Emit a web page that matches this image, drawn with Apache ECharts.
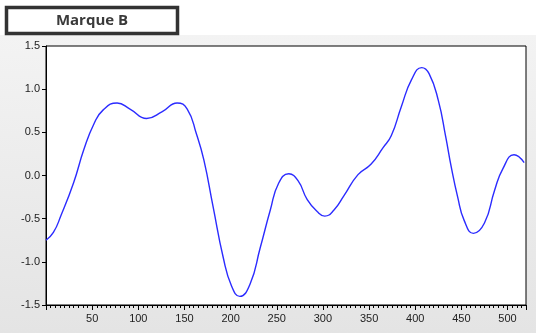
<!DOCTYPE html>
<html>
<head>
<meta charset="utf-8">
<script src="https://cdn.jsdelivr.net/npm/echarts@6/dist/echarts.min.js"></script>
<style>
	html, body { margin: 0; padding: 0; background: #fff; }
	#chart { width: 536px; height: 333px; }
</style>
</head>
<body>
<div id="chart"></div>
<script>
	var obs = [0, 8, 16, 30, 41, 52, 62, 77, 91, 109, 126, 142, 153, 163, 171, 181, 192,
		201, 210, 221, 232, 243, 252, 263, 273, 283, 294, 302, 312, 323, 338, 352, 365, 374, 385, 396,
		407, 415, 425, 433, 439, 446, 453, 463, 475, 486, 495, 507, 518];
	var values = [-0.75, -0.66, -0.47, -0.08, 0.30, 0.60, 0.76, 0.84, 0.77, 0.66, 0.74, 0.84, 0.77, 0.48, 0.18, -0.36, -0.95,
		-1.28, -1.40, -1.26, -0.84, -0.40, -0.09, 0.02, -0.06, -0.28, -0.42, -0.47, -0.40, -0.23, 0.01, 0.13, 0.32, 0.46, 0.80, 1.11,
		1.25, 1.18, 0.87, 0.45, 0.10, -0.25, -0.52, -0.67, -0.55, -0.17, 0.08, 0.24, 0.15];
	var xTicks = [50, 100, 150, 200, 250, 300, 350, 400, 450, 500];
	var titleText = 'Marque B';

	var points = [];
	for (var i = 0; i < obs.length; i++) {
		points.push([obs[i], values[i]]);
	}

	var chart = echarts.init(document.getElementById('chart'));
	var option = {
		animation : false,
		graphic : [
			{
				type : 'rect',
				z : -10,
				shape : { x : 0, y : 35, width : 536, height : 298 },
				style : {
					fill : new echarts.graphic.LinearGradient(0, 0, 0, 1, [
						{ offset : 0, color : '#f3f3f3' },
						{ offset : 1, color : '#e4e4e4' }
					])
				}
			},
			{
				type : 'rect',
				shape : { x : 6.5, y : 7.5, width : 171, height : 26 },
				style : { fill : '#fff', stroke : '#333', lineWidth : 3.5 }
			},
			{
				type : 'text',
				x : 92,
				y : 20.5,
				style : {
					text : titleText,
					font : 'bold 15px "Open Sans"',
					fill : '#3a3a3a',
					align : 'center',
					verticalAlign : 'middle'
				}
			}
		],
		grid : {
			left : 46,
			right : 10,
			top : 46,
			bottom : 28,
			show : true,
			backgroundColor : '#fff',
			borderColor : '#000',
			borderWidth : 1
		},
		xAxis : {
			type : 'value',
			min : 0,
			max : 520,
			interval : 50,
			axisLine : { onZero : false, lineStyle : { color : '#000' } },
			axisTick : { show : true, length : 5, lineStyle : { color : '#000' } },
			minorTick : { show : true, splitNumber : 10, length : 3, lineStyle : { color : '#000' } },
			splitLine : { show : false },
			axisLabel : {
				color : '#222',
				fontFamily : 'Liberation Sans',
				fontSize : 11,
				margin : 8,
				showMaxLabel : false,
				formatter : function(v) {
					return xTicks.indexOf(v) >= 0 ? String(v) : '';
				}
			}
		},
		yAxis : {
			type : 'value',
			min : -1.5,
			max : 1.5,
			interval : 0.5,
			axisLine : { show : true, onZero : false, lineStyle : { color : '#000' } },
			axisTick : { show : true, length : 4, lineStyle : { color : '#000' } },
			splitLine : { show : false },
			axisLabel : {
				color : '#222',
				fontFamily : 'Liberation Sans',
				fontSize : 11,
				margin : 6,
				formatter : function(v) {
					return v.toFixed(1);
				}
			}
		},
		series : [
			{
				type : 'line',
				data : points,
				smooth : true,
				showSymbol : false,
				lineStyle : { color : '#2b2bff', width : 1.4 }
			}
		]
	};
	chart.setOption(option);
</script>
</body>
</html>
